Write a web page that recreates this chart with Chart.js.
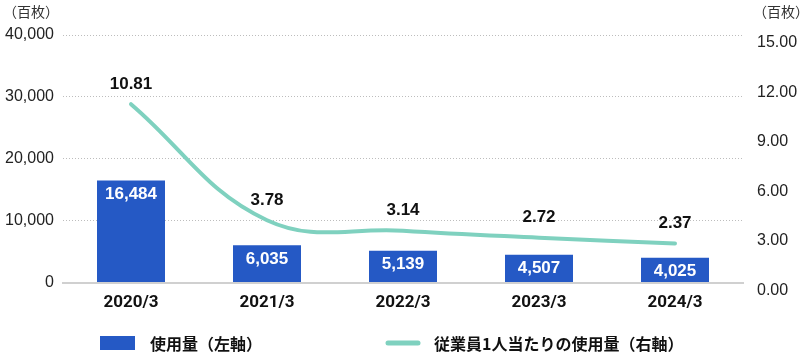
<!DOCTYPE html>
<html><head><meta charset="utf-8">
<script src="https://cdn.jsdelivr.net/npm/chart.js@4"></script>
<style>html,body{margin:0;padding:0;background:#fff}#w{width:800px;height:355px}</style>
</head><body><div id="w"><canvas id="c" width="800" height="355"></canvas></div>
<script>
const categories = ['2020/3','2021/3','2022/3','2023/3','2024/3'];
const usage = [16484, 6035, 5139, 4507, 4025];
const perEmployee = [10.81, 3.78, 3.14, 2.72, 2.37];
const leftTicks = [0, 10000, 20000, 30000, 40000];
const rightTicks = [0, 3, 6, 9, 12, 15];
const unitLabel = '（百枚）';
const legendLabels = ['使用量（左軸）', '従業員1人当たりの使用量（右軸）'];

const BAR = '#2559c5', LINE = '#7fd1bf';
const FONT = '"Liberation Sans", Arial, sans-serif';
const JP = '"Noto Sans CJK JP", sans-serif';

const labelsPlugin = {
  id: 'labels',
  afterDatasetsDraw(chart) {
    const ctx = chart.ctx;
    ctx.save();
    ctx.textAlign = 'center'; ctx.textBaseline = 'middle';
    chart.getDatasetMeta(0).data.forEach((el, i) => {
      ctx.fillStyle = '#fff'; ctx.font = 'bold 17px ' + FONT;
      ctx.fillText(usage[i].toLocaleString('en-US'), el.x, el.y + 14);
    });
    chart.getDatasetMeta(1).data.forEach((el, i) => {
      ctx.fillStyle = '#111'; ctx.font = 'bold 17px ' + FONT;
      ctx.fillText(perEmployee[i].toFixed(2), el.x, el.y - 20);
    });
    // unit labels
    ctx.fillStyle = '#333'; ctx.font = '14px ' + JP;
    ctx.textAlign = 'left';
    ctx.fillText(unitLabel, 3, 12);
    ctx.fillText(unitLabel, 753, 12);
    // legend
    const ly = 343;
    ctx.fillStyle = BAR; ctx.fillRect(100, ly - 7, 35, 14);
    ctx.strokeStyle = LINE; ctx.lineWidth = 5; ctx.lineCap = 'round';
    ctx.beginPath(); ctx.moveTo(388, ly); ctx.lineTo(418, ly); ctx.stroke();
    ctx.fillStyle = '#111'; ctx.font = 'bold 16px ' + JP;
    ctx.fillText(legendLabels[0], 150, ly + 1);
    ctx.fillText(legendLabels[1], 434, ly + 1);
    ctx.restore();
  }
};

new Chart(document.getElementById('c'), {
  data: {
    labels: categories,
    datasets: [
      { type: 'bar', data: usage, backgroundColor: BAR, yAxisID: 'y', order: 2,
        categoryPercentage: 1, barPercentage: 0.5 },
      { type: 'line', data: perEmployee, borderColor: LINE, borderWidth: 4, yAxisID: 'y1',
        order: 1, tension: 0.4, pointRadius: 0, borderCapStyle: 'round', fill: false }
    ]
  },
  options: {
    responsive: false, animation: false,
    layout: { padding: { top: 35, bottom: 40, left: 0, right: 0 } },
    plugins: { legend: { display: false }, tooltip: { enabled: false } },
    scales: {
      x: {
        grid: { display: false },
        border: { display: true, color: '#d0d0d0', width: 2 },
        ticks: { color: '#111', font: { family: 'Roboto, sans-serif', weight: 'bold', size: 17 }, padding: 2 }
      },
      y: {
        position: 'left', min: 0, max: 40000,
        afterBuildTicks: a => { a.ticks = leftTicks.map(v => ({ value: v })); },
        afterFit: a => { a.width = 63; },
        grid: { color: ctx => ctx.tick && ctx.tick.value === 0 ? 'rgba(0,0,0,0)' : '#bdbdbd', lineWidth: 1, drawTicks: false },
        border: { display: false, dash: [1, 2] },
        ticks: { color: '#222', font: { family: FONT, size: 16 }, padding: 9,
          callback: v => v.toLocaleString('en-US') }
      },
      y1: {
        position: 'right', min: 0, max: 15,
        afterBuildTicks: a => { a.ticks = rightTicks.map(v => ({ value: v })); },
        afterFit: a => { a.width = 57; },
        grid: { display: false, drawTicks: false },
        border: { display: false },
        ticks: { color: '#222', font: { family: FONT, size: 16 }, padding: 14, align: 'start',
          callback: v => Number(v).toFixed(2) }
      }
    }
  },
  plugins: [labelsPlugin]
});
</script></body></html>
